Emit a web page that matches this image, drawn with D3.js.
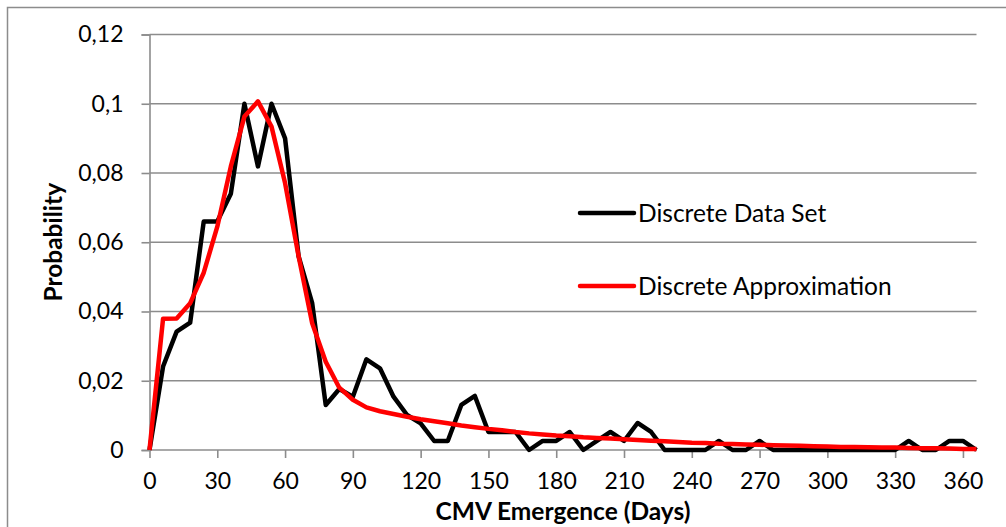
<!DOCTYPE html>
<html>
<head>
<meta charset="utf-8">
<script src="https://cdn.jsdelivr.net/npm/d3@7"></script>
<style>
  html, body { margin: 0; padding: 0; background: #fff; }
  svg { display: block; }
  text { font-family: Lato, "Open Sans", sans-serif; fill: #000; }
</style>
</head>
<body>
<svg id="chart" width="1006" height="527"></svg>
<script>
// ---- Data ----
const days = [0,6,12,18,24,30,36,42,48,54,60,66,72,78,84,90,96,102,108,114,120,126,132,138,144,150,156,162,168,174,180,186,192,198,204,210,216,222,228,234,240,246,252,258,264,270,276,282,288,294,300,306,312,318,324,330,336,342,348,354,360,366];

const discreteDataSet = [0,0.0241,0.0342,0.0368,0.066,0.066,0.074,0.1,0.0819,0.1,0.090,0.0559,0.0424,0.0130,0.0176,0.0154,0.0262,0.0236,0.0154,0.0101,0.0077,0.0026,0.0026,0.0130,0.0156,0.0052,0.0052,0.0052,0,0.0026,0.0026,0.0052,0,0.0026,0.0052,0.0026,0.0078,0.0052,0,0,0,0,0.0026,0,0,0.0026,0,0,0,0,0,0,0,0,0,0,0.0026,0,0,0.0026,0.0026,0];

const discreteApproximation = [0,0.0379,0.038,0.0424,0.0512,0.0645,0.0819,0.0963,0.1007,0.0934,0.0771,0.0559,0.0366,0.0255,0.0180,0.0145,0.0123,0.0112,0.0104,0.0096,0.0089,0.0083,0.0077,0.0071,0.0066,0.0061,0.0057,0.0052,0.0048,0.0045,0.0042,0.0040,0.0037,0.0035,0.0033,0.0031,0.0029,0.0027,0.0025,0.0023,0.0021,0.0020,0.0018,0.0017,0.0016,0.0015,0.0014,0.0013,0.0012,0.0011,0.0010,0.0009,0.0009,0.0008,0.0007,0.0007,0.0006,0.0005,0.0005,0.0004,0.0003,0.0003];

const xTicks = [0,30,60,90,120,150,180,210,240,270,300,330,360];
const yTicks = [0,0.02,0.04,0.06,0.08,0.1,0.12];
const seriesNames = ["Discrete Data Set","Discrete Approximation"];
const xTitle = "CMV Emergence (Days)";
const yTitle = "Probability";

// ---- Layout ----
const svg = d3.select("#chart");
const plotLeft = 149.5, plotRight = 976.5, plotTop = 34.5, plotBottom = 450;
const gridColor = "#8c8c8c";

const x = d3.scaleLinear().domain([0, 366]).range([plotLeft, plotRight]);
const y = d3.scaleLinear().domain([0, 0.12]).range([plotBottom, plotTop]);

// outer chart border
svg.append("rect")
  .attr("x", 7.5).attr("y", 7.5)
  .attr("width", 1020).attr("height", 540)
  .attr("fill", "none").attr("stroke", "#8c8c8c").attr("stroke-width", 1.5);

// horizontal gridlines
svg.append("g")
  .selectAll("line")
  .data(yTicks.filter(d => d > 0))
  .join("line")
  .attr("x1", plotLeft).attr("x2", plotRight)
  .attr("y1", d => y(d)).attr("y2", d => y(d))
  .attr("stroke", gridColor).attr("stroke-width", 1.6);

// y axis
const yAxis = d3.axisLeft(y).tickValues(yTicks).tickSize(8).tickPadding(18)
  .tickFormat(d => d === 0 ? "0" : d3.format(".2~f")(d).replace(".", ","));
const gy = svg.append("g").attr("transform", `translate(${plotLeft},0)`).call(yAxis);
gy.select(".domain").attr("stroke", gridColor).attr("stroke-width", 1.6);
gy.selectAll(".tick line").attr("stroke", gridColor).attr("stroke-width", 1.6);
gy.selectAll(".tick text").attr("font-size", 23).attr("font-family", "Lato, sans-serif").attr("fill", "#000");

// x axis
const xAxis = d3.axisBottom(x).tickValues(xTicks).tickSize(8).tickPadding(15).tickFormat(d3.format("d"));
const gx = svg.append("g").attr("transform", `translate(0,${plotBottom})`).call(xAxis);
gx.select(".domain").attr("stroke", gridColor).attr("stroke-width", 1.6).attr("d", `M${plotLeft},0H${plotRight}`);
gx.selectAll(".tick line").attr("stroke", gridColor).attr("stroke-width", 1.6);
gx.selectAll(".tick text").attr("font-size", 23).attr("font-family", "Lato, sans-serif").attr("fill", "#000");

// lines
const line = d3.line().x((d, i) => x(days[i])).y(d => y(d));
svg.append("path").datum(discreteDataSet)
  .attr("d", line).attr("fill", "none").attr("stroke", "#000")
  .attr("stroke-width", 4.5).attr("stroke-linejoin", "round").attr("stroke-linecap", "butt");
svg.append("path").datum(discreteApproximation)
  .attr("d", line).attr("fill", "none").attr("stroke", "#ff0000")
  .attr("stroke-width", 4.5).attr("stroke-linejoin", "round").attr("stroke-linecap", "butt");

// legend
const legend = svg.append("g");
const legendColors = ["#000", "#ff0000"];
const legendY = [213, 286];
seriesNames.forEach((name, i) => {
  legend.append("line")
    .attr("x1", 580).attr("x2", 634)
    .attr("y1", legendY[i]).attr("y2", legendY[i])
    .attr("stroke", legendColors[i]).attr("stroke-width", 4.5).attr("stroke-linecap", "round");
  legend.append("text")
    .attr("x", 638).attr("y", legendY[i])
    .attr("dy", "0.35em")
    .attr("font-size", 24.5)
    .text(name);
});

// axis titles
svg.append("text")
  .attr("x", (plotLeft + plotRight) / 2).attr("y", 520)
  .attr("text-anchor", "middle")
  .attr("font-size", 24.5).attr("font-weight", "bold")
  .text(xTitle);

svg.append("text")
  .attr("transform", `translate(62,${(plotTop + plotBottom) / 2}) rotate(-90)`)
  .attr("text-anchor", "middle")
  .attr("font-size", 24.5).attr("font-weight", "bold")
  .text(yTitle);
</script>
</body>
</html>
